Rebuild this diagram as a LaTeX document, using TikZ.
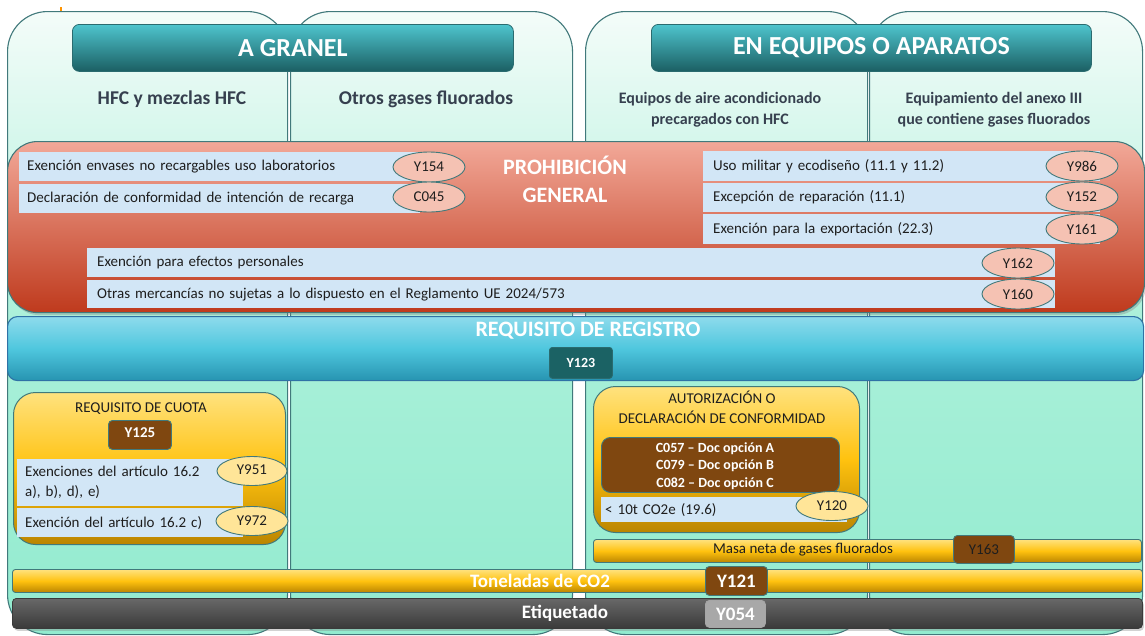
\documentclass[tikz,border=0pt]{standalone}
\usepackage{fontspec}
\setmainfont{Carlito}
\usetikzlibrary{shapes.geometric,shadows}
\definecolor{colb}{HTML}{41797B}
\definecolor{mintT}{HTML}{F4FCF9}
\definecolor{mintM}{HTML}{AAF0D9}
\definecolor{mintB}{HTML}{92EBCF}
\definecolor{tealT}{HTML}{4EC4CD}
\definecolor{tealB}{HTML}{1B5F63}
\definecolor{tealD}{HTML}{2A6B6F}
\definecolor{redT}{HTML}{F2A898}
\definecolor{redB}{HTML}{BF3A1D}
\definecolor{barblue}{HTML}{D2E6F6}
\definecolor{pinkov}{HTML}{F5C2B3}
\definecolor{yelov}{HTML}{FFE598}
\definecolor{bandT}{HTML}{8EDBEC}
\definecolor{bandM}{HTML}{4FC7DE}
\definecolor{bandB}{HTML}{2794B1}
\definecolor{bandD}{HTML}{2F72A6}
\definecolor{regbox}{HTML}{1B6264}
\definecolor{yT}{HTML}{FFE27E}
\definecolor{yM}{HTML}{FFC20F}
\definecolor{yB}{HTML}{BB8500}
\definecolor{brown}{HTML}{7F4710}
\definecolor{grT}{HTML}{686868}
\definecolor{grB}{HTML}{3A3A3A}
\definecolor{grbox}{HTML}{A8A8A8}
\definecolor{txt}{HTML}{1E1E1E}
\definecolor{subt}{HTML}{36404F}
\begin{document}
\begin{tikzpicture}[x=1pt,y=-1pt,
  colbox/.style={draw=colb, line width=1.1pt, rounded corners=40pt, top color=mintT, bottom color=mintB, middle color=mintM, anchor=north west, inner sep=0pt},
  header/.style={draw=tealD, line width=0.8pt, rounded corners=7pt, top color=tealT, bottom color=tealB, anchor=north west, inner sep=0pt, text=white, font=\fontsize{26}{28}\selectfont\bfseries},
  subtitle/.style={text=subt, align=center, font=\fontsize{19.5}{22}\selectfont\bfseries},
  subtitlesm/.style={text=subt, align=center, font=\fontsize{16}{21}\selectfont\bfseries},
  bandtitle/.style={text=white, align=center, font=\fontsize{22}{28}\selectfont\bfseries},
  bar/.style={fill=barblue, anchor=north west, inner ysep=0pt, align=left, text=txt, font=\fontsize{15}{20}\selectfont},
  ov/.style={ellipse, draw=colb, line width=0.9pt, fill=pinkov, minimum width=72pt, minimum height=30pt, inner sep=0pt, text=txt, font=\fontsize{15}{18}\selectfont},
  yov/.style={ov, fill=yelov},
  ybox/.style={draw=colb, line width=1pt, rounded corners=22pt, top color=yT, bottom color=yB, middle color=yM, anchor=north west, inner sep=0pt},
  ybar/.style={draw=colb, line width=0.9pt, rounded corners=3pt, top color=yT, bottom color=yB, middle color=yM, anchor=north west, inner sep=0pt},
  brownbox/.style={draw=colb, line width=0.9pt, rounded corners=4pt, fill=brown, anchor=north west, inner sep=0pt},
  plain/.style={text=txt, align=center, font=\fontsize{15}{20}\selectfont},
  shade/.style={drop shadow={opacity=0.35, shadow xshift=1.5pt, shadow yshift=-2.5pt}}
]
\useasboundingbox (0,0) rectangle (1145,635);
\fill[white] (0,0) rectangle (1145,635);
\fill[orange!85!yellow] (60,7) rectangle (62,12);

% columns
\node[colbox, minimum width=280pt, minimum height=623pt] (c1) at (7,11) {};
\node[colbox, minimum width=282pt, minimum height=623pt] (c2) at (290,11) {};
\node[colbox, minimum width=282pt, minimum height=623pt] (c3) at (585,11) {};
\node[colbox, minimum width=273pt, minimum height=623pt] (c4) at (869,11) {};

% headers
\node[header, minimum width=441pt, minimum height=47pt] (hA) at (72,24) {A GRANEL};
\node[header, minimum width=440pt, minimum height=47pt] (hB) at (651,24) {EN EQUIPOS O APARATOS};

% subtitles
\node[subtitle] (s1) at (172,99) {HFC y mezclas HFC};
\node[subtitle] (s2) at (426,99) {Otros gases fluorados};
\node[subtitlesm] (s3) at (720,110) {Equipos de aire acondicionado\\precargados con HFC};
\node[subtitlesm] (s4) at (994,110) {Equipamiento del anexo III\\que contiene gases fluorados};

% prohibicion general
\node[shade, draw=colb, line width=1.1pt, rounded corners=30pt, top color=redT, bottom color=redB, anchor=north west, inner sep=0pt, minimum width=1137pt, minimum height=171pt] (red) at (7,141) {};
\node[bandtitle] (redt) at (565,179) {PROHIBICIÓN\\GENERAL};

\node[bar, inner xsep=8pt, text width=385pt, minimum height=29pt] (b154) at (19,152) {Exención envases no recargables uso laboratorios};
\node[bar, inner xsep=8pt, text width=385pt, minimum height=29pt] (b045) at (19,184) {Declaración de conformidad de intención de recarga};
\node[ov] (e154) at (429,167) {Y154};
\node[ov] (e045) at (429,197) {C045};

\node[bar, inner xsep=10pt, text width=377pt, minimum height=30pt] (b986) at (703,151) {Uso militar y ecodiseño (11.1 y 11.2)};
\node[bar, inner xsep=10pt, text width=377pt, minimum height=29pt] (b152) at (703,183) {Excepción de reparación (11.1)};
\node[bar, inner xsep=10pt, text width=377pt, minimum height=30pt] (b161) at (703,214) {Exención para la exportación (22.3)};
\node[ov] (e986) at (1082,166) {Y986};
\node[ov] (e152) at (1082,197) {Y152};
\node[ov] (e161) at (1082,229) {Y161};

\node[bar, inner xsep=10pt, text width=948pt, minimum height=29pt] (b162) at (87,248) {Exención para efectos personales};
\node[bar, inner xsep=10pt, text width=948pt, minimum height=28pt] (b160) at (87,280) {Otras mercancías no sujetas a lo dispuesto en el Reglamento UE 2024/573};
\node[ov] (e162) at (1018,263) {Y162};
\node[ov] (e160) at (1018,294) {Y160};

% requisito de registro
\node[draw=bandD, line width=1.1pt, rounded corners=10pt, top color=bandT, bottom color=bandB, middle color=bandM, anchor=north west, inner sep=0pt, minimum width=1136pt, minimum height=64pt] (blue) at (7,316) {};
\node[text=white, font=\fontsize{22}{24}\selectfont\bfseries] (bluet) at (588,331) {REQUISITO DE REGISTRO};
\node[draw=tealD, line width=0.8pt, rounded corners=3pt, fill=regbox, anchor=north west, inner sep=0pt, minimum width=63pt, minimum height=31pt, text=white, font=\fontsize{14}{16}\selectfont\bfseries] (y123) at (549,347) {\raisebox{-3pt}{Y123}};

% requisito de cuota
\node[ybox, minimum width=272pt, minimum height=152pt] (cuota) at (13,392) {};
\node[plain] (cuotat) at (141,409) {REQUISITO DE CUOTA};
\node[brownbox, minimum width=63pt, minimum height=29pt, text=white, font=\fontsize{15}{18}\selectfont\bfseries] (y125) at (108,420) {\raisebox{4pt}{Y125}};
\node[bar, inner xsep=8pt, text width=210pt, minimum height=47pt] (b951) at (17,459) {Exenciones del artículo 16.2\\a), b), d), e)\\[-1pt]};
\node[bar, inner xsep=8pt, text width=210pt, minimum height=29pt] (b972) at (17,508) {Exención del artículo 16.2 c)};
\node[yov, minimum width=70pt, minimum height=29pt] (e951) at (252,471) {\raisebox{3pt}{Y951}};
\node[yov, minimum width=72pt, minimum height=29pt] (e972) at (252,521) {Y972};

% autorizacion
\node[ybox, minimum width=266pt, minimum height=146pt] (auto) at (593,386) {};
\node[plain, font=\fontsize{15}{20}\selectfont] (autot) at (722,407) {AUTORIZACIÓN O\\DECLARACIÓN DE CONFORMIDAD};
\node[brownbox, rounded corners=9pt, minimum width=238pt, minimum height=55pt] (docs) at (601,437) {};
\node[text=white, align=center, font=\fontsize{14}{17.5}\selectfont\bfseries] (docst) at (715,466) {C057 – Doc opción A\\C079 – Doc opción B\\C082 – Doc opción C};
\node[bar, inner xsep=4pt, text width=238pt, minimum height=25pt] (b120) at (601,497) {< 10t CO2e (19.6)};
\node[yov, minimum width=72pt, minimum height=29pt] (e120) at (832,506) {\raisebox{-3pt}{Y120}};

% bottom bars
\node[ybar, minimum width=548pt, minimum height=23pt] (masa) at (593,539) {};
\node[text=txt, font=\fontsize{15}{18}\selectfont] (masat) at (803,550) {Masa neta de gases fluorados};
\node[brownbox, minimum width=61pt, minimum height=28pt, text=txt, font=\fontsize{15}{18}\selectfont] (y163) at (953,535) {Y163};

\node[ybar, minimum width=1130pt, minimum height=23pt] (ton) at (12,569) {};
\node[text=white, font=\fontsize{19}{22}\selectfont\bfseries] (tont) at (540,581) {Toneladas de CO2};
\node[brownbox, minimum width=62pt, minimum height=29pt, text=white, font=\fontsize{19}{22}\selectfont\bfseries] (y121) at (705,566) {Y121};

\node[shade, draw=grB, line width=0.8pt, rounded corners=4pt, top color=grT, bottom color=grB, anchor=north west, inner sep=0pt, minimum width=1130pt, minimum height=30pt] (etq) at (12,598) {};
\node[text=white, font=\fontsize{19}{22}\selectfont\bfseries] (etqt) at (565,613) {Etiquetado};
\node[draw=gray!70, line width=0.8pt, rounded corners=4pt, fill=grbox, anchor=north west, inner sep=0pt, minimum width=60pt, minimum height=27pt, text=white, font=\fontsize{19}{22}\selectfont\bfseries] (y054) at (705,600) {Y054};
\end{tikzpicture}
\end{document}
